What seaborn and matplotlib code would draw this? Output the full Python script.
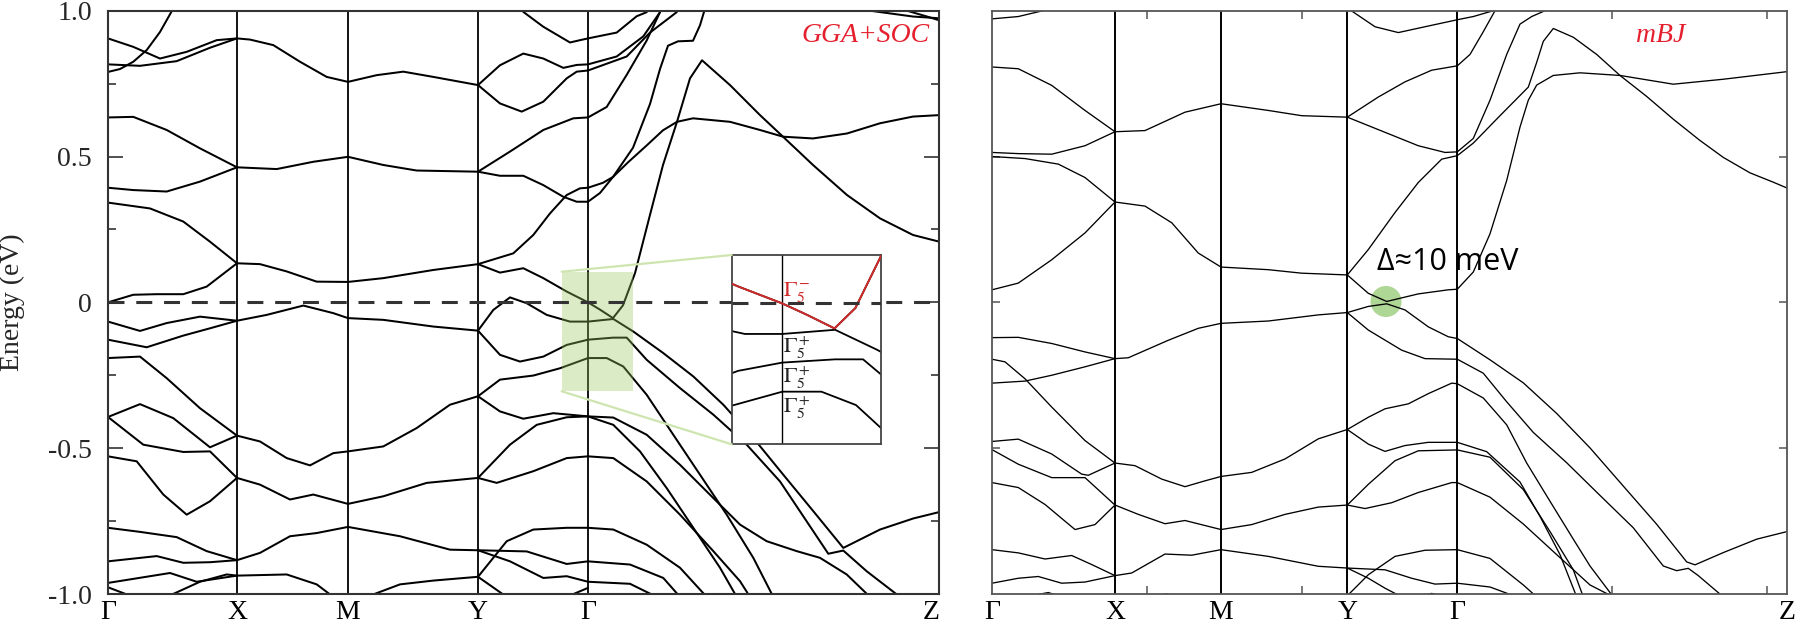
import matplotlib
matplotlib.use("Agg")
import matplotlib.pyplot as plt
import matplotlib.transforms as mtransforms
from matplotlib.patches import Rectangle
from matplotlib.lines import Line2D
import pandas as pd
import seaborn as sns

# ---------------- data (k-path distance, energy in eV) ----------------
gga_ticks = [0.0, 1.29, 2.40, 3.70, 4.80, 8.313]
mbj_ticks = [0.0, 1.23, 2.29, 3.553, 4.653, 7.95]
tick_labels = ["Γ", "X", "M", "Y", "Γ", "Z"]
energy_ticks = [-1.0, -0.5, 0.0, 0.5, 1.0]
energy_labels = ["-1.0", "-0.5", "0", "0.5", "1.0"]

gga_G_X = [
    ([0, 0.12, 0.253, 0.387, 0.52, 0.637, 0.66], [0.790, 0.800, 0.825, 0.865, 0.927, 0.998, 1.03]),
    ([0, 0.253, 0.52, 0.787, 1.087, 1.29], [0.905, 0.876, 0.836, 0.859, 0.899, 0.905]),
    ([0, 0.32, 0.687, 1.02, 1.29], [0.816, 0.811, 0.827, 0.873, 0.905]),
    ([0, 0.253, 0.587, 0.92, 1.29], [0.634, 0.636, 0.591, 0.528, 0.463]),
    ([0, 0.253, 0.587, 0.92, 1.29], [0.393, 0.385, 0.380, 0.414, 0.463]),
    ([0, 0.42, 0.753, 1.02, 1.29], [0.342, 0.322, 0.277, 0.208, 0.134]),
    ([0, 0.253, 0.487, 0.753, 0.987, 1.29], [0.0, 0.026, 0.028, 0.028, 0.054, 0.134]),
    ([0, 0.32, 0.587, 0.92, 1.29], [-0.066, -0.098, -0.071, -0.049, -0.063]),
    ([0, 0.387, 0.753, 1.02, 1.29], [-0.128, -0.154, -0.114, -0.089, -0.063]),
    ([0, 0.32, 0.587, 0.92, 1.29], [-0.191, -0.186, -0.260, -0.363, -0.457]),
    ([0, 0.32, 0.653, 1.02, 1.29], [-0.393, -0.349, -0.397, -0.497, -0.457]),
    ([0, 0.353, 0.753, 1.02, 1.29], [-0.393, -0.488, -0.513, -0.511, -0.602]),
    ([0, 0.287, 0.553, 0.787, 1.02, 1.29], [-0.528, -0.545, -0.659, -0.728, -0.682, -0.602]),
    ([0, 0.32, 0.687, 0.987, 1.29], [-0.773, -0.787, -0.805, -0.853, -0.884]),
    ([0, 0.487, 0.753, 1.02, 1.29], [-0.888, -0.870, -0.893, -0.891, -0.884]),
    ([0, 0.62, 0.887, 1.29], [-0.962, -0.928, -0.958, -0.937]),
    ([0, 0.253], [-0.977, -1.01]),
    ([0.587, 0.92, 1.187, 1.29], [-1.01, -0.958, -0.933, -0.937]),
]
gga_X_M = [
    ([1.29, 1.42, 1.653, 1.92, 2.187, 2.40], [0.905, 0.901, 0.882, 0.825, 0.773, 0.756]),
    ([1.29, 1.687, 2.053, 2.40], [0.463, 0.457, 0.482, 0.499]),
    ([1.29, 1.52, 1.787, 2.087, 2.40], [0.134, 0.131, 0.106, 0.071, 0.070]),
    ([1.29, 1.587, 1.953, 2.253, 2.40], [-0.063, -0.043, -0.011, -0.037, -0.054]),
    ([1.29, 1.52, 1.787, 2.02, 2.253, 2.40], [-0.457, -0.477, -0.534, -0.559, -0.517, -0.511]),
    ([1.29, 1.52, 1.82, 2.053, 2.40], [-0.602, -0.625, -0.676, -0.659, -0.691]),
    ([1.29, 1.52, 1.82, 2.087, 2.40], [-0.884, -0.859, -0.802, -0.791, -0.770]),
    ([1.29, 1.787, 2.087, 2.253], [-0.937, -0.933, -0.967, -1.01]),
]
gga_M_Y = [
    ([2.40, 2.687, 2.953, 3.253, 3.70], [0.756, 0.779, 0.791, 0.773, 0.745]),
    ([2.40, 2.753, 3.087, 3.70], [0.499, 0.471, 0.452, 0.448]),
    ([2.40, 2.753, 3.253, 3.70], [0.070, 0.083, 0.111, 0.131]),
    ([2.40, 2.753, 3.253, 3.70], [-0.054, -0.060, -0.083, -0.097]),
    ([2.40, 2.753, 3.087, 3.42, 3.70], [-0.511, -0.494, -0.431, -0.351, -0.322]),
    ([2.40, 2.753, 3.187, 3.70], [-0.691, -0.665, -0.619, -0.602]),
    ([2.40, 2.92, 3.42, 3.70], [-0.770, -0.802, -0.848, -0.850]),
    ([2.587, 2.92, 3.253, 3.70], [-1.01, -0.967, -0.954, -0.941]),
]
gga_Y_G = [
    ([3.70, 3.92, 4.153, 4.353, 4.553, 4.687, 4.80], [0.745, 0.813, 0.853, 0.836, 0.804, 0.814, 0.816]),
    ([3.70, 3.92, 4.137, 4.353, 4.587, 4.687, 4.80], [0.745, 0.682, 0.654, 0.688, 0.768, 0.791, 0.795]),
    ([4.10, 4.153, 4.353, 4.62, 4.72, 4.80], [1.03, 0.996, 0.945, 0.891, 0.899, 0.905]),
    ([3.70, 4.02, 4.353, 4.653, 4.80], [0.448, 0.517, 0.591, 0.631, 0.634]),
    ([3.70, 3.92, 4.153, 4.353, 4.553, 4.687, 4.80], [0.448, 0.434, 0.434, 0.402, 0.362, 0.345, 0.345]),
    ([3.70, 4.053, 4.253, 4.42, 4.587, 4.72, 4.80], [0.131, 0.168, 0.231, 0.305, 0.368, 0.391, 0.393]),
    ([3.70, 3.853, 4.02, 4.187, 4.387, 4.62, 4.80], [-0.097, -0.026, 0.017, -0.003, -0.043, -0.066, -0.066]),
    ([3.70, 3.92, 4.12, 4.353, 4.587, 4.80], [-0.097, -0.180, -0.203, -0.186, -0.146, -0.128]),
    ([3.70, 3.92, 4.253, 4.52, 4.80], [-0.322, -0.265, -0.251, -0.226, -0.191]),
    ([3.70, 3.92, 4.153, 4.453, 4.80], [-0.322, -0.374, -0.399, -0.380, -0.391]),
    ([3.70, 4.02, 4.287, 4.587, 4.80], [-0.602, -0.488, -0.420, -0.394, -0.391]),
    ([3.70, 3.887, 4.253, 4.587, 4.80], [-0.602, -0.619, -0.579, -0.534, -0.528]),
    ([3.70, 3.987, 4.253, 4.587, 4.80], [-0.941, -0.819, -0.779, -0.773, -0.773]),
    ([3.70, 4.187, 4.587, 4.80], [-0.850, -0.854, -0.897, -0.888]),
    ([3.70, 4.02, 4.353, 4.587, 4.80], [-0.850, -0.888, -0.945, -0.939, -0.958]),
    ([3.70, 3.987], [-0.941, -1.01]),
    ([4.587, 4.80], [-1.01, -0.979]),
]
gga_G_Z = [
    ([4.80, 5.087, 5.287, 5.387, 5.42], [0.905, 0.925, 0.981, 0.995, 1.03]),
    ([4.80, 5.087, 5.353, 5.52, 5.55], [0.816, 0.843, 0.912, 0.995, 1.03]),
    ([4.80, 5.187, 5.42, 5.687, 5.72], [0.795, 0.843, 0.925, 0.995, 1.03]),
    ([4.80, 4.987, 5.187, 5.387, 5.52, 5.55], [0.634, 0.670, 0.780, 0.898, 0.995, 1.03]),
    ([4.80, 4.92, 5.05, 5.25, 5.42, 5.52, 5.60, 5.70, 5.85, 5.92, 5.99],
     [0.345, 0.375, 0.43, 0.53, 0.68, 0.80, 0.88, 0.895, 0.897, 0.95, 1.03]),
    ([4.80, 4.95, 5.05, 5.20, 5.39, 5.55, 5.69, 5.85, 6.22, 6.52, 6.75, 7.05, 7.39, 7.72, 8.05, 8.313],
     [0.393, 0.41, 0.43, 0.48, 0.539, 0.59, 0.619, 0.631, 0.619, 0.591, 0.568, 0.562, 0.579, 0.614, 0.637, 0.642]),
    ([7.45, 7.62, 8.05, 8.313], [1.03, 1.0, 0.98, 0.974]),
    ([7.90, 7.99, 8.19, 8.313], [1.03, 1.0, 0.98, 0.967]),
    ([4.80, 5.053, 5.253, 5.553, 5.853, 6.153, 6.453, 6.753, 7.053, 7.353, 7.72, 8.053, 8.313],
     [-0.066, -0.057, -0.100, -0.174, -0.254, -0.351, -0.465, -0.591, -0.716, -0.842, -0.779, -0.741, -0.719]),
    ([4.80, 5.053, 5.187, 5.387, 5.72, 6.053, 6.387, 6.72, 6.987, 7.203, 7.353, 7.587, 7.92],
     [-0.128, -0.121, -0.121, -0.197, -0.294, -0.385, -0.488, -0.614, -0.751, -0.862, -0.851, -0.922, -1.01]),
    ([4.80, 4.987, 5.153, 5.387, 5.653, 5.92, 6.187, 6.453, 6.653],
     [-0.191, -0.191, -0.220, -0.317, -0.454, -0.591, -0.728, -0.876, -1.01]),
    ([4.80, 5.053, 5.387, 5.72, 6.053, 6.32, 6.587, 6.887, 7.12, 7.387, 7.62],
     [-0.391, -0.395, -0.454, -0.557, -0.671, -0.762, -0.819, -0.853, -0.876, -0.933, -1.01]),
    ([4.80, 5.053, 5.32, 5.587, 5.853, 6.12, 6.287], [-0.391, -0.420, -0.511, -0.637, -0.773, -0.910, -1.01]),
    ([4.80, 5.053, 5.387, 5.72, 6.053, 6.32, 6.42], [-0.528, -0.534, -0.614, -0.728, -0.853, -0.956, -1.01]),
    ([4.80, 5.053, 5.387, 5.72, 5.987], [-0.773, -0.779, -0.831, -0.910, -1.01]),
    ([4.80, 5.22, 5.553, 5.72], [-0.888, -0.899, -0.945, -1.01]),
    ([4.80, 5.22, 5.487], [-0.958, -0.965, -1.01]),
]
# the Gamma5^- band (drawn red in the inset)
gga_G5m_YG = ([3.70, 3.92, 4.153, 4.353, 4.587, 4.80], [0.131, 0.102, 0.117, 0.083, 0.037, 0.0])
gga_G5m_GZ = ([4.80, 4.92, 5.05, 5.15, 5.27, 5.42, 5.55, 5.69, 5.82, 5.94, 6.22, 6.52, 6.75, 7.05, 7.39, 7.72, 8.05, 8.313],
              [0.0, -0.025, -0.054, -0.01, 0.10, 0.30, 0.471, 0.619, 0.768, 0.830, 0.745, 0.642, 0.568, 0.471, 0.368, 0.288, 0.231, 0.208])

mbj_G_X = [
    ([0, 0.263, 0.497, 0.55], [0.972, 0.980, 0.999, 1.03]),
    ([0, 0.263, 0.597, 0.93, 1.23], [0.807, 0.801, 0.744, 0.658, 0.585]),
    ([0, 0.263, 0.597, 0.93, 1.23], [0.514, 0.510, 0.508, 0.537, 0.585]),
    ([0, 0.33, 0.663, 0.93, 1.23], [0.500, 0.493, 0.474, 0.428, 0.344]),
    ([0, 0.263, 0.597, 0.93, 1.23], [0.043, 0.066, 0.146, 0.238, 0.344]),
    ([0, 0.263, 0.597, 0.93, 1.23], [-0.121, -0.120, -0.141, -0.170, -0.193]),
    ([0, 0.33, 0.597, 0.93, 1.23], [-0.277, -0.270, -0.250, -0.221, -0.193]),
    ([0, 0.13, 0.33, 0.597, 0.93, 1.23], [-0.195, -0.204, -0.262, -0.359, -0.474, -0.551]),
    ([0, 0.263, 0.597, 0.897, 0.963, 1.23], [-0.477, -0.469, -0.520, -0.589, -0.593, -0.551]),
    ([0, 0.263, 0.597, 0.93, 1.23], [-0.505, -0.555, -0.601, -0.601, -0.695]),
    ([0, 0.263, 0.53, 0.83, 1.03, 1.23], [-0.618, -0.635, -0.693, -0.779, -0.762, -0.695]),
    ([0, 0.263, 0.53, 0.797, 0.997, 1.23], [-0.848, -0.859, -0.880, -0.868, -0.899, -0.937]),
    ([0, 0.263, 0.463, 0.697, 0.93, 1.23], [-0.963, -0.946, -0.940, -0.963, -0.959, -0.937]),
    ([0.33, 0.563, 0.697], [-1.01, -0.995, -1.01]),
]
mbj_X_M = [
    ([1.23, 1.53, 1.93, 2.29], [0.585, 0.589, 0.652, 0.681]),
    ([1.23, 1.53, 1.797, 2.063, 2.29], [0.344, 0.330, 0.273, 0.169, 0.121]),
    ([1.23, 1.363, 1.763, 2.063, 2.29], [-0.193, -0.190, -0.130, -0.089, -0.072]),
    ([1.23, 1.43, 1.697, 1.93, 2.13, 2.29], [-0.551, -0.560, -0.606, -0.632, -0.612, -0.597]),
    ([1.23, 1.463, 1.73, 1.93, 2.29], [-0.695, -0.727, -0.759, -0.748, -0.779]),
    ([1.23, 1.397, 1.73, 1.997, 2.29], [-0.937, -0.928, -0.863, -0.867, -0.848]),
    ([1.63, 1.747, 1.863], [-1.01, -1.0, -1.01]),
]
mbj_M_Y = [
    ([2.29, 2.763, 3.097, 3.553], [0.681, 0.658, 0.640, 0.635]),
    ([2.29, 2.763, 3.097, 3.553], [0.121, 0.112, 0.100, 0.094]),
    ([2.29, 2.763, 3.263, 3.553], [-0.072, -0.064, -0.043, -0.035]),
    ([2.29, 2.597, 2.93, 3.263, 3.553], [-0.597, -0.583, -0.537, -0.468, -0.436]),
    ([2.29, 2.597, 2.93, 3.263, 3.553], [-0.779, -0.762, -0.727, -0.702, -0.695]),
    ([2.29, 2.763, 3.263, 3.553], [-0.848, -0.871, -0.905, -0.911]),
]
mbj_Y_G = [
    ([3.553, 3.863, 4.13, 4.397, 4.653], [0.635, 0.704, 0.756, 0.796, 0.811]),
    ([3.553, 3.93, 4.263, 4.53, 4.653], [0.635, 0.583, 0.537, 0.514, 0.516]),
    ([3.55, 3.597, 3.83, 4.063, 4.33, 4.653], [1.03, 0.999, 0.945, 0.925, 0.945, 0.969]),
    ([3.553, 3.763, 4.03, 4.263, 4.497, 4.653], [0.094, 0.181, 0.308, 0.411, 0.491, 0.503]),
    ([3.553, 3.763, 3.947, 4.263, 4.563, 4.653], [0.094, 0.031, 0.003, 0.029, 0.043, 0.045]),
    ([3.553, 3.763, 3.947, 4.13, 4.363, 4.563, 4.653], [-0.035, -0.014, -0.005, -0.026, -0.084, -0.118, -0.124]),
    ([3.553, 3.763, 4.097, 4.33, 4.653], [-0.035, -0.095, -0.164, -0.193, -0.195]),
    ([3.553, 3.763, 3.93, 4.163, 4.363, 4.597, 4.653], [-0.436, -0.394, -0.365, -0.348, -0.313, -0.277, -0.279]),
    ([3.553, 3.763, 3.93, 4.13, 4.363, 4.653], [-0.436, -0.486, -0.511, -0.491, -0.480, -0.480]),
    ([3.553, 3.763, 4.03, 4.263, 4.653], [-0.695, -0.624, -0.543, -0.509, -0.506]),
    ([3.553, 3.73, 3.997, 4.263, 4.597, 4.653], [-0.695, -0.707, -0.687, -0.652, -0.618, -0.618]),
    ([3.553, 3.763, 4.03, 4.33, 4.653], [-1.006, -0.934, -0.871, -0.850, -0.848]),
    ([3.553, 3.763, 3.93, 4.097], [-0.911, -0.946, -0.98, -1.01]),
    ([3.553, 3.93, 4.197, 4.43, 4.653], [-0.911, -0.917, -0.946, -0.966, -0.963]),
    ([4.263, 4.397, 4.53], [-1.01, -0.998, -1.01]),
]
mbj_G_Z = [
    ([4.653, 4.813, 5.013, 5.05], [0.969, 0.980, 1.0, 1.03]),
    ([4.653, 4.78, 4.913, 5.03, 5.06], [0.811, 0.850, 0.928, 1.0, 1.03]),
    ([4.653, 4.813, 4.98, 5.147, 5.28, 5.397, 5.53, 5.56], [0.516, 0.562, 0.693, 0.850, 0.954, 0.980, 1.0, 1.03]),
    ([4.653, 4.813, 5.08, 5.363, 5.447, 5.513, 5.613, 5.813, 6.047, 6.28, 6.547, 6.813, 7.08, 7.313, 7.58, 7.813, 7.95],
     [0.503, 0.546, 0.640, 0.738, 0.823, 0.895, 0.939, 0.909, 0.850, 0.778, 0.706, 0.628, 0.555, 0.497, 0.444, 0.412, 0.392]),
    ([4.653, 4.813, 4.98, 5.147, 5.28, 5.363, 5.447, 5.613, 5.88, 6.28, 6.813, 7.313, 7.95],
     [0.045, 0.104, 0.235, 0.418, 0.601, 0.693, 0.745, 0.778, 0.787, 0.778, 0.748, 0.765, 0.791]),
    ([4.653, 4.98, 5.313, 5.647, 5.98, 6.313, 6.647, 6.947, 7.03, 7.313, 7.647, 7.95],
     [-0.124, -0.197, -0.276, -0.381, -0.499, -0.630, -0.761, -0.890, -0.900, -0.858, -0.812, -0.786]),
    ([4.653, 4.913, 5.147, 5.413, 5.747, 6.08, 6.413, 6.713, 6.847, 6.963, 7.063, 7.313],
     [-0.195, -0.243, -0.341, -0.446, -0.550, -0.662, -0.773, -0.904, -0.920, -0.912, -0.937, -1.01]),
    ([4.653, 4.913, 5.147, 5.347, 5.58, 5.813, 5.98, 6.213], [-0.279, -0.328, -0.420, -0.551, -0.682, -0.812, -0.904, -1.01]),
    ([4.653, 4.947, 5.28, 5.48, 5.68, 5.847], [-0.480, -0.512, -0.616, -0.734, -0.865, -1.01]),
    ([4.653, 4.98, 5.313, 5.58, 5.813, 5.913], [-0.506, -0.531, -0.642, -0.786, -0.917, -1.01]),
    ([4.653, 4.98, 5.313, 5.647, 5.98, 6.213], [-0.618, -0.668, -0.760, -0.865, -0.969, -1.01]),
    ([4.653, 4.98, 5.313, 5.447], [-0.848, -0.878, -0.969, -1.01]),
    ([4.653, 4.98, 5.247], [-0.963, -0.976, -1.01]),
]

# zoom window (k range, energy range) and gap marker
zoom_k = (4.537, 5.253)
zoom_E = (-0.305, 0.105)
inset_k = (4.557, 5.273)
gap_point = (3.94, 0.003)


def frame(groups):
    rows, bid = [], 0
    for g in groups:
        for ks, es in g:
            for k, e in zip(ks, es):
                rows.append((bid, k, e))
            bid += 1
    return pd.DataFrame(rows, columns=["band", "k", "E"])


sns.set_theme(style="ticks")
plt.rcParams["font.family"] = ["Liberation Serif", "DejaVu Serif"]
plt.rcParams["mathtext.fontset"] = "stix"
plt.rcParams["lines.scale_dashes"] = False

W, H = 1796, 632
fig = plt.figure(figsize=(W / 100, H / 100), dpi=100)


def px_axes(x0, y0, x1, y1):
    return fig.add_axes([x0 / W, 1 - y1 / H, (x1 - x0) / W, (y1 - y0) / H])


axL = px_axes(108, 10.7, 939.3, 594)
axR = px_axes(992, 10.7, 1787, 594)
axI = px_axes(731.7, 255, 881, 444.3)

gga_df = frame([gga_G_X, gga_X_M, gga_M_Y, gga_Y_G, gga_G_Z, [gga_G5m_YG, gga_G5m_GZ]])
mbj_df = frame([mbj_G_X, mbj_X_M, mbj_M_Y, mbj_Y_G, mbj_G_Z])
red_df = frame([[gga_G5m_YG, gga_G5m_GZ]])

# ---------- left panel: GGA+SOC ----------
sns.lineplot(data=gga_df, x="k", y="E", units="band", estimator=None, sort=False,
             color="black", linewidth=1.45, ax=axL, legend=False, zorder=2)
for k in gga_ticks[1:-1]:
    axL.axvline(k, color="black", lw=1.3, zorder=1)
axL.axhline(0, color="#333333", lw=2.2, dashes=(11.5, 8.5), zorder=5)
axL.add_patch(Rectangle((zoom_k[0], zoom_E[0]), zoom_k[1] - zoom_k[0], zoom_E[1] - zoom_E[0],
                        facecolor=(150 / 255, 200 / 255, 90 / 255), alpha=0.35,
                        edgecolor="none", zorder=4))
axL.set_xlim(gga_ticks[0], gga_ticks[-1])
axL.set_ylim(-1, 1)
axL.set_xticks(gga_ticks)
axL.set_xticklabels(tick_labels)
axL.set_yticks(energy_ticks)
axL.set_yticklabels(energy_labels)
axL.set_yticks([-0.75, -0.25, 0.25, 0.75], minor=True)
axL.tick_params(axis="x", length=0, pad=4, labelsize=20, colors="black")
axL.tick_params(axis="y", which="major", direction="in", length=11, width=1.2,
                left=True, right=True, labelsize=20, pad=11.5, color="#333333")
axL.tick_params(axis="y", which="minor", direction="in", length=6, width=1.2,
                left=True, right=True, color="#333333")
axL.get_xticklabels()[-1].set_ha("right")
axL.set_xlabel("")
axL.set_ylabel("Energy (eV)", fontsize=20)
axL.yaxis.set_label_coords(-0.10, 0.5)
for s in axL.spines.values():
    s.set_color("#333333")
    s.set_linewidth(1.5)

# ---------- inset ----------
sns.lineplot(data=gga_df, x="k", y="E", units="band", estimator=None, sort=False,
             color="black", linewidth=1.3, ax=axI, legend=False, zorder=2)
sns.lineplot(data=red_df, x="k", y="E", units="band", estimator=None, sort=False,
             color="#d02a2a", linewidth=1.4, ax=axI, legend=False, zorder=3)
axI.axvline(gga_ticks[4], color="black", lw=1.0, zorder=1)
axI.axhline(0, color="#333333", lw=2.2, dashes=(11.5, 8.5), zorder=5)
axI.set_xlim(*inset_k)
axI.set_ylim(*zoom_E)
axI.set_xticks([])
axI.set_yticks([])
axI.set_xlabel("")
axI.set_ylabel("")
for s in axI.spines.values():
    s.set_color("#444444")
    s.set_linewidth(1.3)

fig.text(783 / W, 1 - 295.7 / H, r"$\Gamma_5^-$", color="#d02a2a", fontsize=16, va="baseline")
for yb in (353.3, 383.3, 413.3):
    fig.text(783 / W, 1 - yb / H, r"$\Gamma_5^+$", color="#222222", fontsize=16, va="baseline")

# connector lines from the green box to the inset
fig.canvas.draw()
ident = mtransforms.IdentityTransform()
p_top = axL.transData.transform((zoom_k[0], zoom_E[1]))
p_bot = axL.transData.transform((zoom_k[0], zoom_E[0]))
fig.add_artist(Line2D([p_top[0], 731.7], [p_top[1], H - 255], transform=ident,
                      color="#cfe5b0", lw=1.6, zorder=3))
fig.add_artist(Line2D([p_bot[0], 731.7], [p_bot[1], H - 444.3], transform=ident,
                      color="#cfe5b0", lw=1.6, zorder=3))

fig.text(930 / W, 1 - 42 / H, "GGA+SOC", color="#e5202e", fontsize=20, style="italic",
         ha="right", va="baseline")

# ---------- right panel: mBJ ----------
sns.lineplot(data=mbj_df, x="k", y="E", units="band", estimator=None, sort=False,
             color="black", linewidth=0.95, ax=axR, legend=False, zorder=2)
for k in mbj_ticks[1:-1]:
    axR.axvline(k, color="black", lw=1.4, zorder=1)
axR.scatter([gap_point[0]], [gap_point[1]], s=500, color="#a5d28a", alpha=0.9,
            edgecolors="none", zorder=1.5)
axR.set_xlim(mbj_ticks[0], mbj_ticks[-1])
axR.set_ylim(-1, 1)
axR.set_xticks(mbj_ticks)
axR.set_xticklabels(tick_labels)
axR.set_xticks([1.55, 3.10, 4.65, 6.20, 7.75], minor=True)
axR.set_yticks([-0.5, 0, 0.5])
axR.set_yticklabels([])
axR.tick_params(axis="x", which="major", length=0, pad=4, labelsize=20, colors="black")
axR.tick_params(axis="x", which="minor", direction="in", length=6, width=1.1,
                top=True, bottom=True, color="#555555")
axR.tick_params(axis="y", direction="in", length=6, width=1.1, left=True, right=True,
                color="#555555")
axR.set_xlabel("")
axR.set_ylabel("")
for s in axR.spines.values():
    s.set_color("#555555")
    s.set_linewidth(1.3)

fig.text(1661 / W, 1 - 42 / H, "mBJ", color="#e5202e", fontsize=20, style="italic",
         ha="center", va="baseline")
fig.text(1377 / W, 1 - 270 / H, "Δ≈10 meV", fontsize=22, family=["Open Sans", "DejaVu Sans"],
         color="black", ha="left", va="baseline")

fig.savefig("out.png", dpi=100)
